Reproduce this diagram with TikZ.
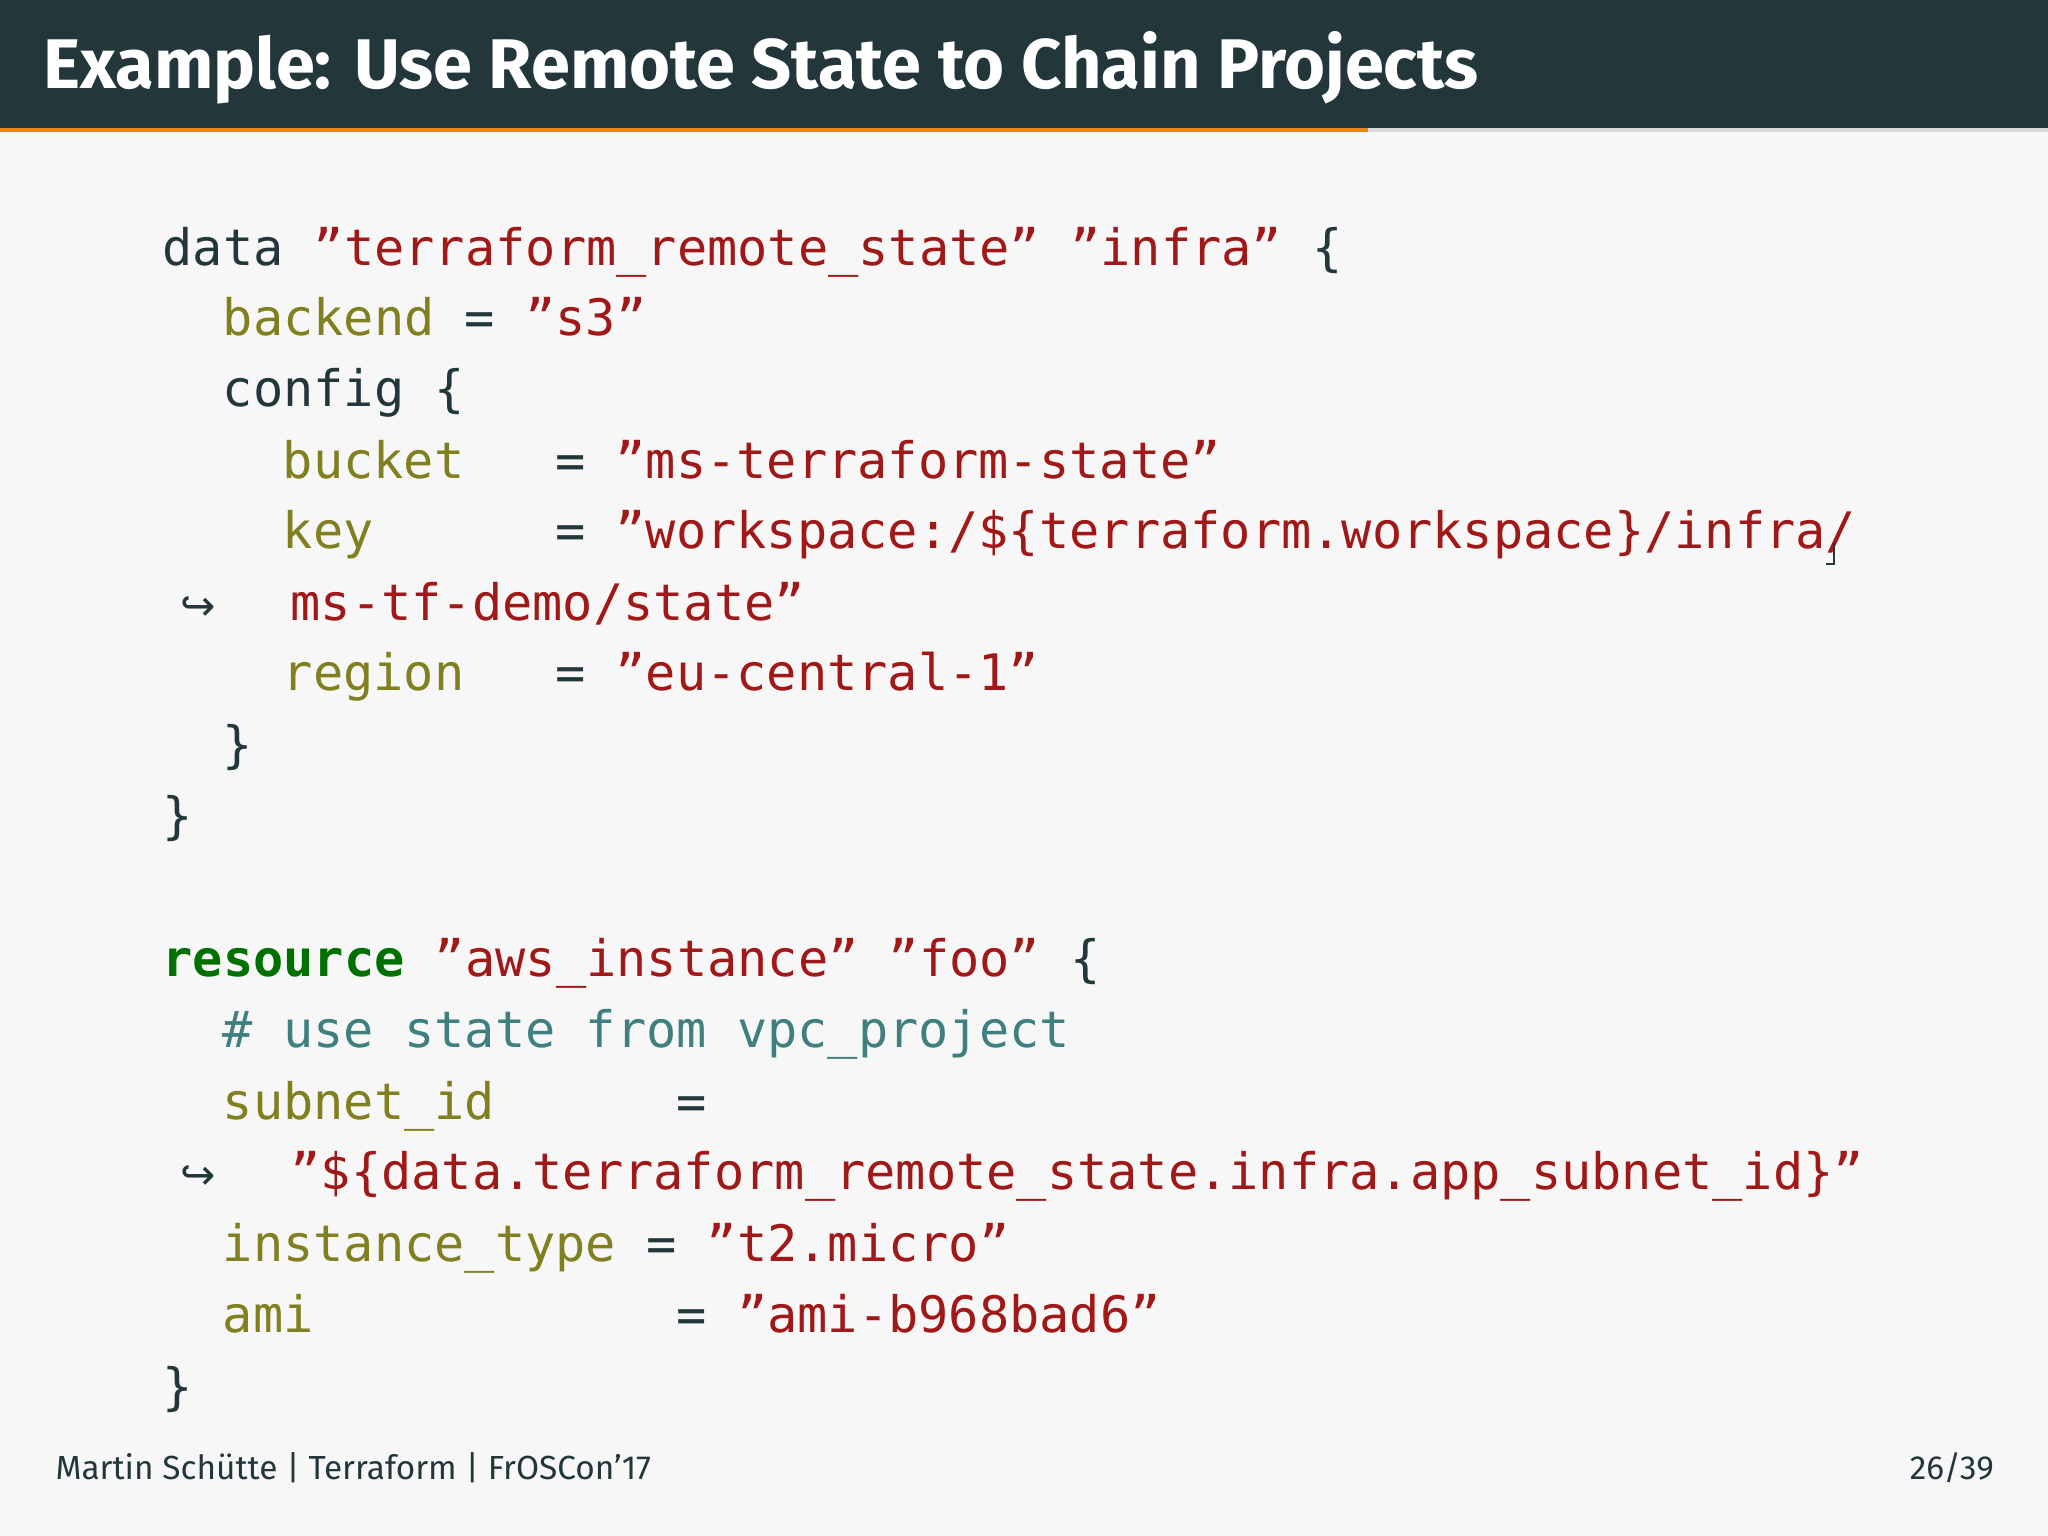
\documentclass[tikz,border=0pt]{standalone}
\usepackage{fontspec}
\setmainfont{Fira Sans}
\setmonofont{DejaVu Sans Mono}
\newfontfamily\symf{DejaVu Sans}
\definecolor{dk}{HTML}{23373B}
\definecolor{org}{HTML}{EB811B}
\definecolor{ol}{HTML}{808020}
\definecolor{rd}{HTML}{A01818}
\definecolor{gr}{HTML}{007000}
\definecolor{cm}{HTML}{3F7F7F}
\tikzset{code/.style={anchor=base west,inner sep=0,font=\ttfamily\fontsize{14.3}{17}\selectfont,text=dk},
foot/.style={inner sep=0,font=\fontsize{9.5}{11}\selectfont,text=dk}}
\begin{document}
\begin{tikzpicture}[x=0.013061cm,y=-0.013061cm]
\fill[white!97!black] (0,0) rectangle (1568,1176);
\fill[dk] (0,0) rectangle (1568,98);
\fill[white!85!black] (0,98) rectangle (1568,101);
\fill[org] (0,98) rectangle (1047,101);
\node[anchor=base west,inner sep=0,text=white,font=\fontsize{20}{24}\selectfont\bfseries] (title) at (33,68) {Example: Use Remote State to Chain Projects};
\def\dy{54.4}
\node[code] (l0) at (124,203) {data \textcolor{rd}{”terraform\_remote\_state” ”infra”} \{};
\node[code] (l1) at (170,257) {\textcolor{ol}{backend} = \textcolor{rd}{”s3”}};
\node[code] (l2) at (170,311) {config \{};
\node[code] (l3) at (216,366) {\textcolor{ol}{bucket}~~ = \textcolor{rd}{”ms-terraform-state”}};
\node[code] (l4) at (216,420) {\textcolor{ol}{key}~~~~~ = \textcolor{rd}{”workspace:/\$\{terraform.workspace\}/infra/}};
\draw[dk,line width=0.6pt] (1404,416) -- (1404,432) -- (1398,432);
\node[code,font=\symf\fontsize{12}{14}\selectfont] (a1) at (138,475) {↪};
\node[code] (l5) at (222,475) {\textcolor{rd}{ms-tf-demo/state”}};
\node[code] (l6) at (216,529) {\textcolor{ol}{region}~~ = \textcolor{rd}{”eu-central-1”}};
\node[code] (l7) at (170,584) {\}};
\node[code] (l8) at (124,638) {\}};
\node[code] (l10) at (124,748) {\textcolor{gr}{\bfseries resource} \textcolor{rd}{”aws\_instance” ”foo”} \{};
\node[code] (l11) at (170,802) {\textcolor{cm}{\# use state from vpc\_project}};
\node[code] (l12) at (170,857) {\textcolor{ol}{subnet\_id}~~~~~ =};
\node[code,font=\symf\fontsize{12}{14}\selectfont] (a2) at (138,911) {↪};
\node[code] (l13) at (222,911) {\textcolor{rd}{”\$\{data.terraform\_remote\_state.infra.app\_subnet\_id\}”}};
\node[code] (l14) at (170,966) {\textcolor{ol}{instance\_type} = \textcolor{rd}{”t2.micro”}};
\node[code] (l15) at (170,1020) {\textcolor{ol}{ami}~~~~~~~~~~~ = \textcolor{rd}{”ami-b968bad6”}};
\node[code] (l16) at (124,1075) {\}};
\node[foot,anchor=base west] (f1) at (42,1133) {Martin Schütte | Terraform | FrOSCon’17};
\node[foot,anchor=base east] (f2) at (1527,1133) {26/39};
\end{tikzpicture}
\end{document}
